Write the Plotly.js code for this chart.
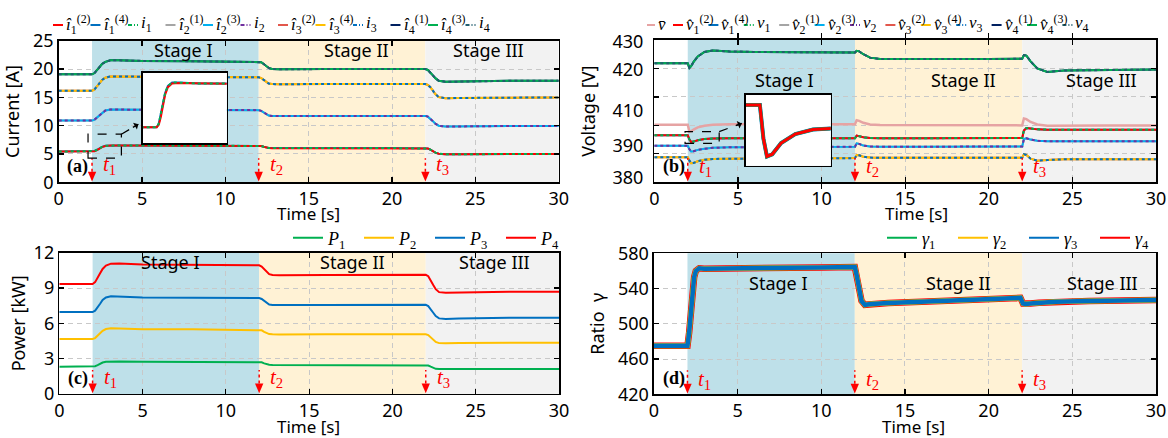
<!DOCTYPE html>
<html><head><meta charset="utf-8">
<script src="https://cdn.plot.ly/plotly-3.0.1.min.js"></script>
<style>html,body{margin:0;padding:0;background:#fff;overflow:hidden}#chart{width:1168px;height:438px}</style>
</head><body><div id="chart"></div>
<script>
// ---------------- data ----------------
const timeI = [0,2,2.15,2.3,2.45,2.6,2.8,3.1,3.6,5,8,12,12.15,12.3,12.45,12.6,12.8,13.2,16,20,22,22.15,22.3,22.45,22.6,22.8,23.2,24,27,30];
const current4 = [19.07,19.07,19.3,19.77,20.35,20.9,21.28,21.55,21.55,21.45,21.4,21.35,21.22,20.9,20.5,20.2,20.02,19.98,20.0,20.02,20.0,19.85,19.45,18.9,18.4,17.95,17.75,17.8,17.92,17.95];
const current3 = [16.18,16.18,16.42,16.9,17.5,18.07,18.48,18.7,18.68,18.62,18.6,18.55,18.42,18.1,17.7,17.45,17.35,17.33,17.36,17.38,17.36,17.2,16.8,16.2,15.6,15.05,14.85,14.9,15.0,15.0];
const current2 = [10.9,10.9,11.08,11.45,11.92,12.35,12.68,12.85,12.85,12.8,12.78,12.75,12.63,12.35,12.0,11.8,11.72,11.7,11.72,11.74,11.73,11.6,11.25,10.8,10.35,10.0,9.85,9.88,9.95,9.96];
const current1 = [5.44,5.44,5.53,5.75,6.02,6.27,6.44,6.52,6.52,6.5,6.5,6.48,6.42,6.28,6.13,6.06,6.04,6.03,6.04,6.05,6.04,5.97,5.78,5.5,5.25,5.05,4.96,4.97,5.0,5.0];
const current1Est = [5.44,5.44,5.5,5.69,5.96,6.22,6.41,6.5,6.51,6.5,6.49,6.47,6.41,6.27,6.12,6.05,6.03,6.03,6.04,6.04,6.04,5.96,5.77,5.49,5.24,5.05,4.96,4.97,4.99,5.0];

const timeV = [0,2,2.1,2.2,2.35,2.6,3.0,3.5,4.5,6,9,12,12.1,12.25,12.5,12.9,13.5,16,20,22,22.1,22.25,22.5,22.9,23.5,24.5,27,30];
const voltage4 = [421.8,421.8,420.2,420.8,422.3,424.2,425.8,426.3,426.0,425.8,425.7,425.6,426.2,426.0,425.0,423.8,423.3,423.2,423.3,423.4,424.7,424.5,422.5,420.0,418.8,419.3,419.5,419.6];
const voltageAvg = [400.2,400.2,397.8,397.9,398.5,399.3,399.9,400.2,400.4,400.4,400.4,400.4,401.8,401.6,400.9,400.3,400.1,400.0,400.0,400.0,402.4,402.2,401.2,400.3,399.9,400.0,400.0,400.0];
const voltage1 = [396.5,396.5,395.0,394.2,394.3,394.8,395.2,395.4,395.5,395.5,395.5,395.5,396.4,396.2,395.8,395.6,395.5,395.5,395.5,395.6,398.2,399.1,398.9,398.6,398.5,398.5,398.5,398.5];
const voltage2 = [392.8,392.8,391.6,390.8,390.9,391.4,391.8,392.1,392.3,392.4,392.4,392.5,393.7,393.5,392.9,392.6,392.5,392.5,392.6,392.6,395.2,395.5,395.0,394.6,394.4,394.4,394.4,394.4];
const voltage3 = [388.8,388.8,387.6,386.7,386.8,387.4,387.9,388.2,388.3,388.4,388.4,388.5,389.6,389.5,389.0,388.7,388.6,388.6,388.6,388.6,389.9,389.6,388.3,387.6,387.8,388.1,388.1,388.1];

const timeP = [0,2,2.15,2.3,2.45,2.6,2.8,3.1,3.6,5,8,12,12.15,12.3,12.45,12.6,12.8,13.2,16,20,22,22.15,22.3,22.45,22.6,22.8,23.2,24,27,30];
const power4 = [9.34,9.34,9.5,9.82,10.25,10.62,10.9,11.07,11.08,11.0,10.97,10.93,10.83,10.6,10.35,10.18,10.1,10.08,10.1,10.12,10.12,10.0,9.68,9.25,8.9,8.65,8.6,8.63,8.68,8.69];
const power3 = [6.96,6.96,7.08,7.33,7.66,7.98,8.2,8.3,8.28,8.2,8.17,8.15,8.07,7.9,7.7,7.6,7.56,7.55,7.56,7.57,7.57,7.47,7.22,6.9,6.62,6.42,6.37,6.42,6.47,6.48];
const power2 = [4.67,4.67,4.75,4.93,5.16,5.37,5.52,5.58,5.56,5.5,5.49,5.47,5.41,5.28,5.15,5.09,5.07,5.06,5.07,5.08,5.08,5.01,4.83,4.6,4.42,4.32,4.3,4.33,4.36,4.36];
const power1 = [2.32,2.32,2.36,2.45,2.57,2.67,2.73,2.76,2.75,2.74,2.74,2.73,2.69,2.6,2.52,2.48,2.46,2.46,2.46,2.46,2.46,2.42,2.32,2.2,2.14,2.12,2.11,2.12,2.12,2.12];

const timeR = [0,2,2.1,2.2,2.3,2.4,2.5,2.7,3,4,6,8,10,12,12.1,12.25,12.4,12.6,13,14,16,18,20,21.9,22.05,22.2,22.5,23,24,26,28,30];
const ratio = [475,475,490,515,538,553,560,563,562.5,562.5,563,563.5,564,564.5,556,538,526,521.5,522.5,523.5,525,526.5,528,529.5,523,522.5,523,524,525,526,526.5,527];

const xTicks = [0,5,10,15,20,25,30];
const events = [2,12,22];
const eventNames = ['1','2','3'];
const stageNames = ['Stage I','Stage II','Stage III'];
const stageBounds = [[2,12],[12,22],[22,30]];
const voltGridVals = [380,390,400,410,420,430];
const voltLabelPos = [429.4,419.5,405.3,393.0,381.5];
const voltLabelText = ['430','420','410','390','380'];
const insetA = {x:[1.0,7.0], y:[5.05,6.76]};
const insetB = {x:[1.6,4.0], y:[393.79,396.94]};
const zoomRectA = {x:[1.76,3.76], y:[4.28,8.5]};
const zoomRectB = {x:[1.84,3.88], y:[393.7,397.8]};
const zoomArrowA = [[3.76,8.5],[4.78,10.26]];
const zoomArrowB = [[3.88,397.8],[5.23,400.7]];

// ---------------- styling ----------------
const SANS = 'Noto Sans', SERIF = 'Liberation Serif';
const C = {red:'#FF0000', blue:'#0070C0', green:'#00B050', gray:'#A5A5A5', cyan:'#00B0F0', purple:'#7030A0',
  red2:'#E2574C', gold:'#FFC000', navy:'#002060', teal:'#215E6E', pink:'#E6A3A3'};
const stageFill = ['#BEE0E9','#FFF2D5','#F2F2F2'];

function ln(x, y, color, xa, ya, o) {
  o = o || {};
  const t = {type:'scatter', mode:'lines', x:x, y:y, xaxis:xa, yaxis:ya,
    line:{color:color, width:o.w || 2, dash:o.dash || 'solid'}, showlegend:!!o.show, hoverinfo:'skip'};
  if (o.name) t.name = o.name;
  if (o.legend) t.legend = o.legend;
  return t;
}
const DOT = {dash:'dot'};
const traces = [
  // (a) currents
  ln(timeI,current1,C.blue,'x','y'), ln(timeI,current1Est,C.red,'x','y'), ln(timeI,current1,C.green,'x','y',DOT),
  ln(timeI,current2,C.gray,'x','y'), ln(timeI,current2,C.cyan,'x','y'), ln(timeI,current2,C.purple,'x','y',DOT),
  ln(timeI,current3,C.red2,'x','y'), ln(timeI,current3,C.gold,'x','y'), ln(timeI,current3,C.blue,'x','y',DOT),
  ln(timeI,current4,C.navy,'x','y'), ln(timeI,current4,C.green,'x','y'), ln(timeI,current4,C.teal,'x','y',DOT),
  // (b) voltages
  ln(timeV,voltageAvg,C.pink,'x2','y2',{w:2.5}),
  ln(timeV,voltage1,C.blue,'x2','y2'), ln(timeV,voltage1,C.red,'x2','y2'), ln(timeV,voltage1,C.green,'x2','y2',DOT),
  ln(timeV,voltage2,C.gray,'x2','y2'), ln(timeV,voltage2,C.cyan,'x2','y2'), ln(timeV,voltage2,C.purple,'x2','y2',DOT),
  ln(timeV,voltage3,C.red2,'x2','y2'), ln(timeV,voltage3,C.gold,'x2','y2'), ln(timeV,voltage3,C.blue,'x2','y2',DOT),
  ln(timeV,voltage4,C.navy,'x2','y2'), ln(timeV,voltage4,C.green,'x2','y2'), ln(timeV,voltage4,C.teal,'x2','y2',DOT),
  // (c) power
  ln(timeP,power1,C.green,'x3','y3',{show:true,name:'<i>P</i><sub>1</sub>',legend:'legend'}),
  ln(timeP,power2,C.gold,'x3','y3',{show:true,name:'<i>P</i><sub>2</sub>',legend:'legend'}),
  ln(timeP,power3,C.blue,'x3','y3',{show:true,name:'<i>P</i><sub>3</sub>',legend:'legend'}),
  ln(timeP,power4,C.red,'x3','y3',{show:true,name:'<i>P</i><sub>4</sub>',legend:'legend'}),
  // (d) ratio (red first so the blue band sits on top)
  ln(timeR,ratio,C.red,'x4','y4',{w:6.5}),
  ln(timeR,ratio,C.green,'x4','y4',{w:5}),
  ln(timeR,ratio,C.gold,'x4','y4',{w:5}),
  ln(timeR,ratio,C.blue,'x4','y4',{w:4.5}),
  // legend entries for (d), thin as in the reference
  ln([null],[null],C.green,'x4','y4',{show:true,name:'<i>γ</i><sub>1</sub>',legend:'legend2'}),
  ln([null],[null],C.gold,'x4','y4',{show:true,name:'<i>γ</i><sub>2</sub>',legend:'legend2'}),
  ln([null],[null],C.blue,'x4','y4',{show:true,name:'<i>γ</i><sub>3</sub>',legend:'legend2'}),
  ln([null],[null],C.red,'x4','y4',{show:true,name:'<i>γ</i><sub>4</sub>',legend:'legend2'}),
  // insets
  ln(timeI,current1,C.blue,'x5','y5'), ln(timeI,current1Est,C.red,'x5','y5'), ln(timeI,current1,C.green,'x5','y5',DOT),
  ln(timeV,voltage1,C.blue,'x6','y6',{w:4}), ln(timeV,voltage1,C.green,'x6','y6',{w:3.5}), ln(timeV,voltage1,C.red,'x6','y6',{w:3}),
  // label axis for (b)
  ln([null],[null],'#000','x2','y7')
];

const tickFont = {family:SANS, size:18, color:'#000'};
function xax(dom, anchor) {
  return {domain:dom, anchor:anchor, range:[0,30], tickvals:xTicks, ticks:'inside', ticklen:5, tickwidth:1.2,
    tickcolor:'#000', mirror:'allticks', showline:true, linecolor:'#000', linewidth:1.5, showgrid:true,
    gridcolor:'#C8C8C8', griddash:'5px,4px', gridwidth:1, zeroline:false, tickfont:tickFont,
    automargin:false, fixedrange:true};
}
function yax(dom, anchor, range, dtick, title, standoff) {
  return {domain:dom, anchor:anchor, range:range, dtick:dtick, tick0:range[0], ticks:'inside', ticklen:5, tickwidth:1.2,
    tickcolor:'#000', mirror:'allticks', showline:true, linecolor:'#000', linewidth:1.5, showgrid:true,
    gridcolor:'#C8C8C8', griddash:'5px,4px', gridwidth:1, zeroline:false, tickfont:tickFont,
    title:{text:title, font:tickFont, standoff:standoff}, automargin:false, fixedrange:true};
}
function insetAx(dom, anchor, range) {
  return {domain:dom, anchor:anchor, range:range, showline:true, mirror:true, linecolor:'#000', linewidth:1.5,
    ticks:'', showticklabels:false, showgrid:false, zeroline:false, automargin:false, fixedrange:true};
}

const dX = {a:[0.05026,0.47834], b:[0.56019,0.98973], c:[0.05077,0.47860], d:[0.55993,0.98973]};
const dY = {a:[0.58379,0.90685], b:[0.58379,0.90868], c:[0.10046,0.42306], d:[0.09977,0.42169]};

const yB = yax(dY.b,'x2',[380,430],10,'Voltage [V]',52);
yB.tickvals = voltGridVals; yB.showticklabels = false; delete yB.dtick;

const legendFont = {family:SERIF, size:18, color:'#000'};
const layout = {
  width:1168, height:438, margin:{l:0,r:0,t:0,b:0,autoexpand:false}, paper_bgcolor:'#fff', plot_bgcolor:'#fff',
  font:{family:SANS, color:'#000'},
  xaxis:xax(dX.a,'y'), yaxis:yax(dY.a,'x',[0,25],5,'Current [A]',8),
  xaxis2:xax(dX.b,'y2'), yaxis2:yB,
  xaxis3:xax(dX.c,'y3'), yaxis3:yax(dY.c,'x3',[0,12],3,'Power [kW]',3),
  xaxis4:xax(dX.d,'y4'), yaxis4:yax(dY.d,'x4',[420,580],40,'Ratio  γ',8),
  xaxis5:insetAx([0.12217,0.19410],'y5',insetA.x), yaxis5:insetAx([0.67283,0.83402],'x5',insetA.y),
  xaxis6:insetAx([0.63844,0.71122],'y6',insetB.x), yaxis6:insetAx([0.62169,0.78311],'x6',insetB.y),
  yaxis7:{overlaying:'y2', anchor:'x2', side:'left', range:[380,430], tickvals:voltLabelPos, ticktext:voltLabelText,
    ticks:'', showgrid:false, showline:false, zeroline:false, tickfont:tickFont, ticklabelstandoff:10, automargin:false, fixedrange:true},
  legend:{orientation:'h', x:288/1168, y:1-238/438, xanchor:'left', yanchor:'middle', font:legendFont,
    bgcolor:'rgba(0,0,0,0)', entrywidth:26, itemwidth:30},
  legend2:{orientation:'h', x:882/1168, y:1-238/438, xanchor:'left', yanchor:'middle', font:legendFont,
    bgcolor:'rgba(0,0,0,0)', entrywidth:26, itemwidth:30},
  shapes:[], annotations:[], showlegend:true
};

// panels
const panels = [
  {xa:'x', ya:'y', tag:'(a)', stageX:[7.46,17.88,25.76], stageY:0.935, labY:0.12, titleX:308, titleY:213.5},
  {xa:'x2', ya:'y2', tag:'(b)', stageX:[7.75,18.49,26.76], stageY:0.719, labY:0.11, titleX:916, titleY:213.5},
  {xa:'x3', ya:'y3', tag:'(c)', stageX:[6.64,17.6,26.1], stageY:0.936, labY:0.11, titleX:308, titleY:426},
  {xa:'x4', ya:'y4', tag:'(d)', stageX:[7.4,18.2,26.8], stageY:0.79, labY:0.10, titleX:913.5, titleY:426}
];
panels.forEach(p => {
  const yd = p.ya + ' domain', xd = p.xa + ' domain';
  stageBounds.forEach((b, k) => {
    layout.shapes.push({type:'rect', xref:p.xa, yref:yd, x0:b[0], x1:b[1], y0:0, y1:1, fillcolor:stageFill[k], line:{width:0}, layer:'below'});
    layout.annotations.push({xref:p.xa, yref:yd, x:p.stageX[k], y:p.stageY, text:stageNames[k], showarrow:false,
      font:{family:SANS, size:18, color:'#000'}, xanchor:'center', yanchor:'middle'});
  });
  events.forEach((t, k) => {
    layout.shapes.push({type:'line', xref:p.xa, yref:yd, x0:t, x1:t, y0:0.075, y1:0.17, line:{color:'#FF0000', width:1.5, dash:'dot'}});
    // red arrow head at the event time
    layout.shapes.push({type:'path', xref:p.xa, yref:yd,
      path:'M'+(t-0.25)+',0.075 L'+(t+0.25)+',0.075 L'+t+',0.005 Z', fillcolor:'#FF0000', line:{width:0}});
    layout.annotations.push({xref:p.xa, yref:yd, x:t, xshift:9, y:p.labY, text:'<i>t</i><sub>'+eventNames[k]+'</sub>', showarrow:false,
      xanchor:'left', yanchor:'middle', font:{family:SERIF, size:21, color:'#FF0000'}});
  });
  layout.annotations.push({xref:xd, yref:yd, x:0.013, y:0.11, text:'<b>'+p.tag+'</b>', showarrow:false, xanchor:'left', yanchor:'middle',
    font:{family:SERIF, size:18, color:'#000'}});
  // x-axis title
  layout.annotations.push({xref:'paper', yref:'paper', x:p.titleX/1168, y:1-p.titleY/438, text:'Time [s]', showarrow:false,
    xanchor:'center', yanchor:'middle', font:{family:SANS, size:17, color:'#000'}});
});

// insets: white backgrounds, zoom rectangles and dashed arrows
[[ 'x5','y5',insetA ],[ 'x6','y6',insetB ]].forEach(a => {
  layout.shapes.push({type:'rect', xref:a[0], yref:a[1], x0:a[2].x[0], x1:a[2].x[1], y0:a[2].y[0], y1:a[2].y[1], fillcolor:'#fff', line:{width:0}, layer:'below'});
});
[['x','y',zoomRectA,zoomArrowA,[-7,4]],['x2','y2',zoomRectB,zoomArrowB,[-7.5,2.8]]].forEach(a => {
  layout.shapes.push({type:'rect', xref:a[0], yref:a[1], x0:a[2].x[0], x1:a[2].x[1], y0:a[2].y[0], y1:a[2].y[1], line:{color:'#000', width:1.2, dash:'dash'}});
  layout.shapes.push({type:'line', xref:a[0], yref:a[1], x0:a[3][0][0], y0:a[3][0][1], x1:a[3][1][0], y1:a[3][1][1], line:{color:'#000', width:1.2, dash:'dash'}});
  layout.annotations.push({xref:a[0], yref:a[1], x:a[3][1][0], y:a[3][1][1], ax:a[4][0], ay:a[4][1], axref:'pixel', ayref:'pixel',
    showarrow:true, arrowhead:1, arrowsize:1, arrowwidth:1.3, arrowcolor:'#000', text:'', standoff:0});
});

// custom legends for (a) and (b)
const legA = [
  [C.red,'s','<i>î</i><sub>1</sub><sup>(2)</sup>'],[C.blue,'s','<i>î</i><sub>1</sub><sup>(4)</sup>'],[C.green,'d','<i>i</i><sub>1</sub>'],
  [C.gray,'s','<i>î</i><sub>2</sub><sup>(1)</sup>'],[C.cyan,'s','<i>î</i><sub>2</sub><sup>(3)</sup>'],[C.purple,'d','<i>i</i><sub>2</sub>'],
  [C.red2,'s','<i>î</i><sub>3</sub><sup>(2)</sup>'],[C.gold,'s','<i>î</i><sub>3</sub><sup>(4)</sup>'],[C.blue,'d','<i>i</i><sub>3</sub>'],
  [C.navy,'s','<i>î</i><sub>4</sub><sup>(1)</sup>'],[C.green,'s','<i>î</i><sub>4</sub><sup>(3)</sup>'],[C.teal,'d','<i>i</i><sub>4</sub>']
];
const legB = [
  [C.red,'s','<i>v̂</i><sub>1</sub><sup>(2)</sup>'],[C.blue,'s','<i>v̂</i><sub>1</sub><sup>(4)</sup>'],[C.green,'d','<i>v</i><sub>1</sub>'],
  [C.gray,'s','<i>v̂</i><sub>2</sub><sup>(1)</sup>'],[C.cyan,'s','<i>v̂</i><sub>2</sub><sup>(3)</sup>'],[C.purple,'d','<i>v</i><sub>2</sub>'],
  [C.red2,'s','<i>v̂</i><sub>3</sub><sup>(2)</sup>'],[C.gold,'s','<i>v̂</i><sub>3</sub><sup>(4)</sup>'],[C.blue,'d','<i>v</i><sub>3</sub>'],
  [C.navy,'s','<i>v̂</i><sub>4</sub><sup>(1)</sup>'],[C.green,'s','<i>v̂</i><sub>4</sub><sup>(3)</sup>'],[C.teal,'d','<i>v</i><sub>4</sub>']
];
function legItem(x0, len, color, style, label) {
  const yp = 1 - 25/438;
  layout.shapes.push({type:'line', xref:'paper', yref:'paper', x0:x0/1168, x1:(x0+len)/1168, y0:yp, y1:yp,
    line:{color:color, width:2, dash: style === 'd' ? '4px,2px,1px,2px' : 'solid'}});
  layout.annotations.push({xref:'paper', yref:'paper', x:(x0+len+1)/1168, y:1-24/438, text:label, showarrow:false,
    xanchor:'left', yanchor:'middle', font:{family:SERIF, size:17, color:'#000'}});
}
legA.forEach((it, k) => legItem(53 + 37.5*k, 10, it[0], it[1], it[2]));
legItem(647, 8, C.pink, 's', '<i>v̄</i>');
legB.forEach((it, k) => legItem(673 + 35.4*k, 10, it[0], it[1], it[2]));

Plotly.newPlot('chart', traces, layout, {staticPlot:true, displayModeBar:false});
</script></body></html>
